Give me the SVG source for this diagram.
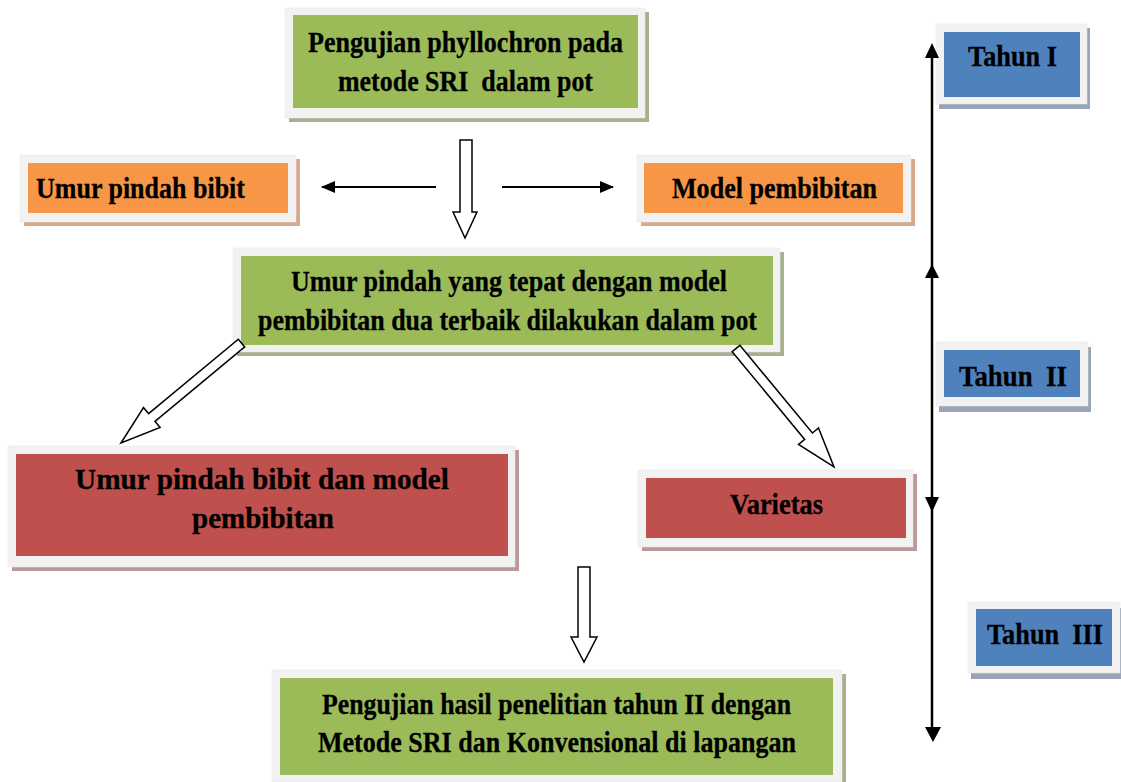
<svg xmlns="http://www.w3.org/2000/svg" width="1121" height="782" viewBox="0 0 1121 782">
<style>
.frame{fill:#F2F2F2;stroke:#E6E6E6;stroke-width:0.5}
.g{fill:#9BBB59}.o{fill:#F79646}.r{fill:#C0504D}.b{fill:#4F81BD}
.gs{fill:#A8B08F}.os{fill:#D6AA8B}.rs{fill:#BC9999}.bs{fill:#98A4B7}
.t{font-family:"Liberation Serif","Times New Roman",serif;font-weight:bold;font-size:30px;fill:#000;stroke:#000;stroke-width:0.3;white-space:pre}
.hollow{fill:#fff;stroke:#000;stroke-width:1.5;stroke-linejoin:miter}
.ln{stroke:#000;stroke-width:2;fill:none}
.vl{stroke:#000;stroke-width:2.5;fill:none}
</style>
<defs>
<marker id="ah" viewBox="0 0 14 12" refX="13" refY="6" markerWidth="14" markerHeight="12" markerUnits="userSpaceOnUse" orient="auto">
<path d="M0,0 L14,6 L0,12 Z" fill="#000"/>
</marker>
</defs>
<rect width="1121" height="782" fill="#fff"/>

<g id="node-top">
<rect class="gs" x="289" y="12" width="360" height="110"/>
<rect class="frame" x="285" y="8" width="360" height="110"/>
<rect class="g" x="293" y="15" width="345" height="93"/>
<text class="t" x="308" y="52" textLength="315" lengthAdjust="spacingAndGlyphs">Pengujian phyllochron pada</text>
<text class="t" x="338" y="91" textLength="255" lengthAdjust="spacingAndGlyphs" xml:space="preserve">metode SRI  dalam pot</text>
</g>

<g id="node-umur-pindah">
<rect class="os" x="24" y="159" width="276" height="67"/>
<rect class="frame" x="20" y="155" width="276" height="67"/>
<rect class="o" x="28" y="163" width="260" height="50"/>
<text class="t" x="36" y="198" textLength="209" lengthAdjust="spacingAndGlyphs">Umur pindah bibit</text>
</g>

<g id="node-model">
<rect class="os" x="641" y="159" width="274" height="67"/>
<rect class="frame" x="637" y="155" width="274" height="67"/>
<rect class="o" x="644" y="163" width="259" height="50"/>
<text class="t" x="672" y="198" textLength="205" lengthAdjust="spacingAndGlyphs">Model pembibitan</text>
</g>

<g id="node-middle">
<rect class="gs" x="237" y="252" width="547" height="104"/>
<rect class="frame" x="233" y="248" width="547" height="104"/>
<rect class="g" x="241" y="256" width="532" height="89"/>
<text class="t" x="291" y="291" textLength="436" lengthAdjust="spacingAndGlyphs">Umur pindah yang tepat dengan model</text>
<text class="t" x="258" y="330" textLength="499" lengthAdjust="spacingAndGlyphs">pembibitan dua terbaik dilakukan dalam pot</text>
</g>

<g id="node-umur-model">
<rect class="rs" x="12" y="450" width="507" height="121"/>
<rect class="frame" x="8" y="446" width="507" height="121"/>
<rect class="r" x="16" y="454" width="492" height="102"/>
<text class="t" x="75" y="489" textLength="374" lengthAdjust="spacingAndGlyphs">Umur pindah bibit dan model</text>
<text class="t" x="192" y="528" textLength="142" lengthAdjust="spacingAndGlyphs">pembibitan</text>
</g>

<g id="node-varietas">
<rect class="rs" x="642" y="474" width="275" height="77"/>
<rect class="frame" x="638" y="470" width="275" height="77"/>
<rect class="r" x="646" y="478" width="260" height="60"/>
<text class="t" x="730" y="514" textLength="93" lengthAdjust="spacingAndGlyphs">Varietas</text>
</g>

<g id="node-bottom">
<rect class="gs" x="276" y="674" width="570" height="112"/>
<rect class="frame" x="272" y="670" width="570" height="112"/>
<rect class="g" x="280" y="678" width="553" height="97"/>
<text class="t" x="322" y="714" textLength="469" lengthAdjust="spacingAndGlyphs">Pengujian hasil penelitian tahun II dengan</text>
<text class="t" x="318" y="752" textLength="478" lengthAdjust="spacingAndGlyphs">Metode SRI dan Konvensional di lapangan</text>
</g>

<g id="node-tahun1">
<rect class="bs" x="939" y="28" width="151" height="81"/>
<rect class="frame" x="936" y="24" width="151" height="80"/>
<rect class="b" x="944" y="32" width="136" height="65"/>
<text class="t" x="968" y="66" textLength="89" lengthAdjust="spacingAndGlyphs">Tahun I</text>
</g>

<g id="node-tahun2">
<rect class="bs" x="939" y="347" width="152" height="65"/>
<rect class="frame" x="936" y="342" width="152" height="64"/>
<rect class="b" x="944" y="350" width="136" height="47"/>
<text class="t" x="959" y="386" textLength="108" lengthAdjust="spacingAndGlyphs" xml:space="preserve">Tahun  II</text>
</g>

<g id="node-tahun3">
<rect class="bs" x="971" y="608" width="152" height="71"/>
<rect class="frame" x="968" y="602" width="152" height="71"/>
<rect class="b" x="976" y="609" width="136" height="57"/>
<text class="t" x="987" y="644" textLength="116" lengthAdjust="spacingAndGlyphs" xml:space="preserve">Tahun  III</text>
</g>

<g id="connectors">
<line class="ln" x1="436" y1="187" x2="322" y2="187" marker-end="url(#ah)"/>
<line class="ln" x1="502" y1="187" x2="613" y2="187" marker-end="url(#ah)"/>
<polygon class="hollow" points="460,140 472,140 472,212 477,212 465,238 453,212 460,212"/>
<polygon class="hollow" points="578,567 590,567 590,637 597,637 584,662 571,637 578,637"/>
<polygon class="hollow" points="244.7,346.9 155.0,421.3 160.1,427.5 121,443 143.5,407.5 148.6,413.6 238.3,339.2"/>
<polygon class="hollow" points="732.2,351.7 804.7,439.4 798.5,444.5 834,467 818.5,427.9 812.4,433.0 739.9,345.3"/>
<line class="vl" x1="932" y1="50" x2="932" y2="735"/>
<polygon points="932,43 925,58 939,58" fill="#000"/>
<polygon points="932,264 925,278 939,278" fill="#000"/>
<polygon points="932,512 925,497 939,497" fill="#000"/>
<polygon points="933,742 925,727 941,727" fill="#000"/>
</g>
</svg>
